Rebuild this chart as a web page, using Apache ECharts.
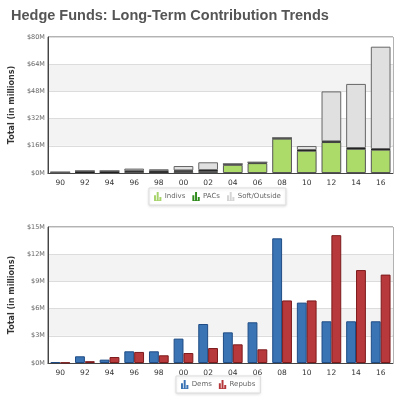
<!DOCTYPE html>
<html>
<head>
<meta charset="utf-8">
<script src="https://cdn.jsdelivr.net/npm/echarts@6/dist/echarts.min.js"></script>
<style>
  html, body { margin: 0; padding: 0; background: #fff; }
  #chart { width: 398px; height: 400px; }
</style>
</head>
<body>
<div id="chart"></div>
<script>
// election cycles
const cycles = ["90", "92", "94", "96", "98", "00", "02", "04", "06", "08", "10", "12", "14", "16"];

// top chart, $M
const indivs = [0, 0, 0, 0.9, 0.2, 1.0, 1.2, 4.8, 5.8, 20.2, 13.1, 18.2, 14.2, 13.7];
const pacs = [0.5, 1.2, 1.2, 0.4, 0.9, 0.5, 0.5, 0.5, 0.5, 0.4, 0.4, 0.4, 0.5, 0.4];
const softOutside = [0, 0, 0, 1.3, 1.1, 2.6, 4.6, 0, 0, 0, 2.4, 29.4, 37.7, 60.2];

// bottom chart, $M
const dems = [0.1, 0.74, 0.37, 1.29, 1.29, 2.69, 4.3, 3.38, 4.49, 13.75, 6.66, 4.6, 4.6, 4.6];
const repubs = [0.05, 0.2, 0.66, 1.22, 0.85, 1.1, 1.65, 2.06, 1.51, 6.9, 6.9, 14.1, 10.25, 9.75];

const topTicks = { min: 0, max: 80, interval: 16 };
const bottomTicks = { min: 0, max: 15, interval: 3 };

const chart = echarts.init(document.getElementById("chart"));

const barIcon = "path://M0,4h2.4v6h-2.4z M3.3,0h2.4v10h-2.4z M6.6,6h2.4v4h-2.4z M0,10.2h9v0.8h-9z";

const textFont = "Verdana, 'DejaVu Sans', sans-serif";

const makeY = (gridIndex, ticks) => ({
  type: "value",
  gridIndex,
  min: ticks.min,
  max: ticks.max,
  interval: ticks.interval,
  name: "Total (in millions)",
  nameLocation: "middle",
  nameGap: 24,
  nameTextStyle: { fontSize: 8, fontWeight: "bold", color: "#333", fontFamily: textFont },
  axisLine: { show: true, lineStyle: { color: "#444", width: 1 } },
  axisTick: { show: false },
  axisLabel: {
    fontSize: 6.5,
    color: "#666",
    margin: 3,
    fontFamily: textFont,
    formatter: (v) => "$" + v + "M",
  },
  splitLine: { lineStyle: { color: "#dcdcdc", width: 1 } },
  splitArea: { show: true, areaStyle: { color: ["#ffffff", "#f3f3f3"] } },
});

const makeX = (gridIndex) => ({
  type: "category",
  gridIndex,
  data: cycles,
  axisLine: { lineStyle: { color: "#444", width: 1 } },
  axisTick: { show: false },
  axisLabel: { fontSize: 7.5, color: "#333", margin: 6, fontFamily: textFont },
});

const legendBase = {
  padding: [4, 5],
  itemWidth: 8,
  itemHeight: 9,
  itemGap: 7,
  backgroundColor: "#fff",
  borderColor: "#ddd",
  borderWidth: 1,
  shadowColor: "rgba(0,0,0,0.12)",
  shadowBlur: 3,
  shadowOffsetY: 1,
  textStyle: { fontSize: 7, color: "#666", fontFamily: textFont, padding: [0, 0, 0, -2] },
};

chart.setOption({
  animation: false,
  title: {
    text: "Hedge Funds: Long-Term Contribution Trends",
    left: 6,
    top: 3,
    textStyle: { fontSize: 14.5, fontWeight: "bold", color: "#555", fontFamily: "Arial, 'Liberation Sans', sans-serif" },
  },
  grid: [
    { left: 40, right: 5, top: 37, height: 136, show: true, borderColor: "#666", borderWidth: 1 },
    { left: 40, right: 5, top: 227, height: 136, show: true, borderColor: "#666", borderWidth: 1 },
  ],
  xAxis: [makeX(0), makeX(1)],
  yAxis: [makeY(0, topTicks), makeY(1, bottomTicks)],
  legend: [
    Object.assign({}, legendBase, {
      left: 149,
      top: 188,
      data: [
        { name: "Indivs", icon: barIcon, itemStyle: { color: "#a6d36a", borderWidth: 0 } },
        { name: "PACs", icon: barIcon, itemStyle: { color: "#2e8b1c", borderWidth: 0 } },
        { name: "Soft/Outside", icon: barIcon, itemStyle: { color: "#d5d5d5", borderWidth: 0 } },
      ],
    }),
    Object.assign({}, legendBase, {
      left: 176,
      top: 376,
      data: [
        { name: "Dems", icon: barIcon, itemStyle: { color: "#3a74b4", borderWidth: 0 } },
        { name: "Repubs", icon: barIcon, itemStyle: { color: "#b5373a", borderWidth: 0 } },
      ],
    }),
  ],
  series: [
    {
      name: "Indivs", type: "bar", stack: "total", xAxisIndex: 0, yAxisIndex: 0,
      barWidth: "80%", data: indivs,
      itemStyle: { color: "#addb6a", borderColor: "#555", borderWidth: 1 },
    },
    {
      name: "PACs", type: "bar", stack: "total", xAxisIndex: 0, yAxisIndex: 0,
      barWidth: "80%", data: pacs,
      itemStyle: { color: "#1c1c1c", borderColor: "#222", borderWidth: 1 },
    },
    {
      name: "Soft/Outside", type: "bar", stack: "total", xAxisIndex: 0, yAxisIndex: 0,
      barWidth: "80%", data: softOutside,
      itemStyle: { color: "#e0e0e0", borderColor: "#666", borderWidth: 1 },
    },
    {
      name: "Dems", type: "bar", xAxisIndex: 1, yAxisIndex: 1,
      barWidth: "40%", barGap: "0%", data: dems,
      itemStyle: { color: "#3a74b4", borderColor: "#1f4c85", borderWidth: 1 },
    },
    {
      name: "Repubs", type: "bar", xAxisIndex: 1, yAxisIndex: 1,
      barWidth: "40%", barGap: "0%", data: repubs,
      itemStyle: { color: "#b8393b", borderColor: "#7c1a1c", borderWidth: 1 },
    },
  ],
});
</script>
</body>
</html>
